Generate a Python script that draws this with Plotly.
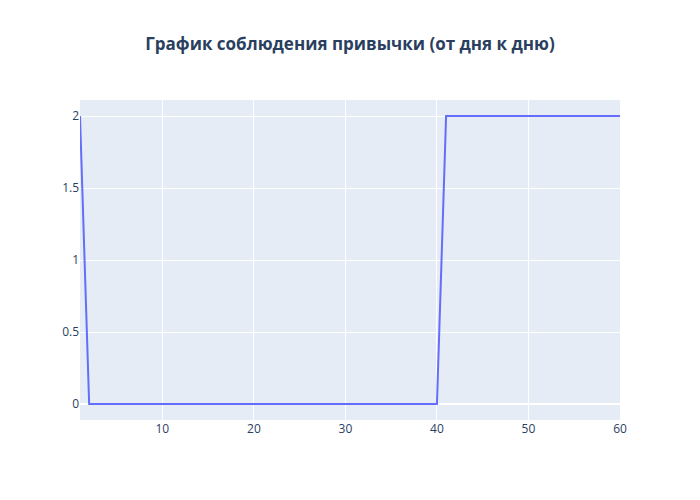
import plotly.graph_objects as go

days = list(range(1, 61))
values = [2] + [0] * 39 + [2] * 20

fig = go.Figure()
fig.add_trace(go.Scatter(x=days, y=values, mode="lines"))
fig.update_layout(
    title=dict(text="<b>График соблюдения привычки (от дня к дню)</b>", x=0.5),
    width=700, height=500,
)
fig.write_html("out.html", config={"displayModeBar": False},
               post_script="document.body.style.margin='0';")
